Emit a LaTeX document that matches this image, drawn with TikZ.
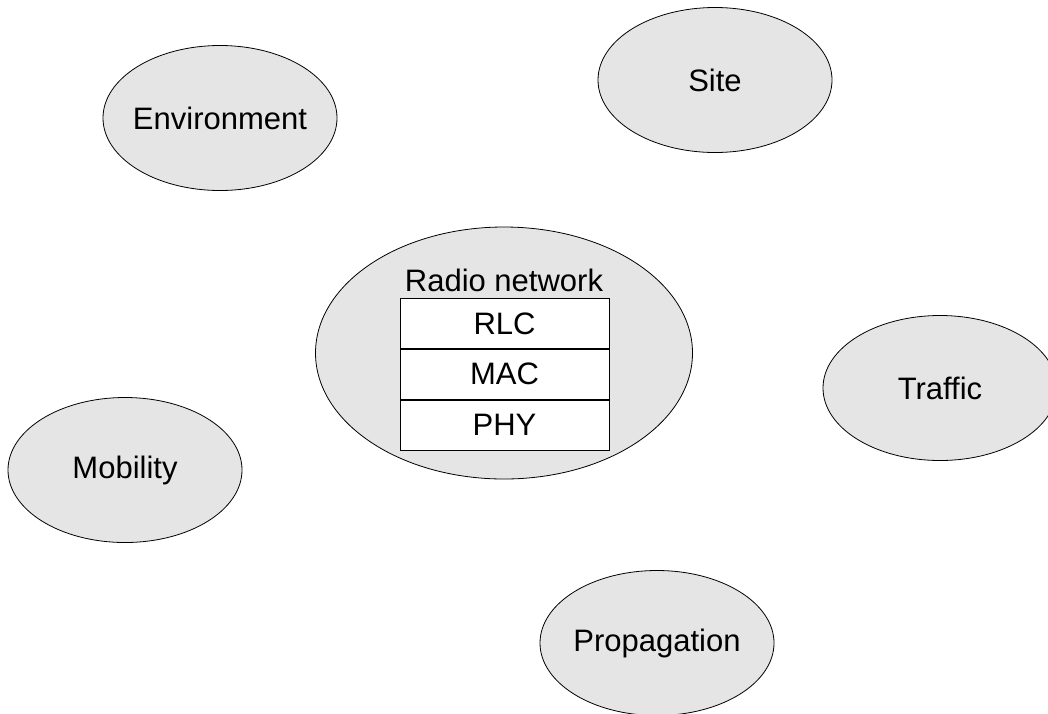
\documentclass[tikz,border=0pt]{standalone}
\usepackage{fontspec}
\setmainfont{Liberation Sans}
\usetikzlibrary{shapes.geometric}
\begin{document}
\begin{tikzpicture}[x=1pt,y=-1pt,
    font=\fontsize{31}{36}\selectfont,
    blob/.style={ellipse,draw,line width=0.8pt,fill=gray!20,
      minimum width=234pt,minimum height=145pt,inner xsep=-45pt,inner ysep=0pt},
    layer/.style={rectangle,draw,line width=0.8pt,fill=white,
      minimum width=209pt,minimum height=50pt,inner sep=0pt}]
    \useasboundingbox (0,0) rectangle (1048,713);
    \clip (0,0) rectangle (1048,713);
    \node[blob] (env) at (220,118) {Environment};
    \node[blob] (site) at (715,80) {Site};
    \node[blob] (mob) at (125,470) {Mobility};
    \node[blob] (traf) at (940,388) {Traffic};
    \node[blob] (prop) at (657,643) {Propagation};
    \node[blob,minimum width=377pt,minimum height=252pt] (radio) at (504,353) {};
    \node (rtitle) at (504,280) {Radio network};
    \node[layer] (rlc) at (504.5,323.5) {RLC};
    \node[layer,anchor=north] (mac) at (rlc.south) {MAC};
    \node[layer,anchor=north] (phy) at (mac.south) {PHY};
\end{tikzpicture}
\end{document}
